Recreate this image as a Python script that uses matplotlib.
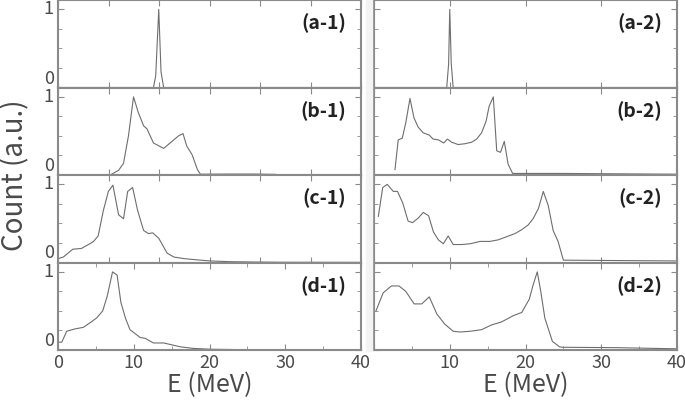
import numpy as np
import matplotlib
matplotlib.use("Agg")
from matplotlib import pyplot as plt
from matplotlib.patches import Rectangle

plt.rcParams['font.family'] = ['Noto Sans CJK SC', 'DejaVu Sans']

# energy (MeV) / normalised count for each panel
e_a1 = [0, 12.6, 12.9, 13.3, 13.6, 13.95, 40]
c_a1 = [0, 0, 0.15, 1.0, 0.2, 0, 0]
e_a2 = [0, 9.6, 9.85, 10.0, 10.2, 10.45, 40]
c_a2 = [0, 0, 0.3, 1.0, 0.3, 0, 0]

e_b1 = [6.5, 6.9, 8.0, 8.65, 9.3, 9.97, 10.6, 11.3, 11.75, 12.6, 13.95, 14.8,
        15.9, 16.5, 17.0, 17.7, 18.4, 18.8, 22, 26, 28.7]
c_b1 = [0, 0, 0.06, 0.15, 0.5, 1.0, 0.8, 0.63, 0.59, 0.41, 0.34, 0.41,
        0.5, 0.53, 0.37, 0.26, 0.07, 0.01, 0.012, 0.012, 0.008]
e_b2 = [2.77, 3.2, 3.73, 4.2, 4.75, 5.28, 5.85, 6.5, 7.3, 7.8, 8.5, 9.2, 9.7,
        10.25, 11.1, 12.0, 12.9, 13.55, 14.2, 14.8, 15.2, 15.75, 16.2, 16.7,
        17.2, 17.7, 18.3, 25, 32, 40]
c_b2 = [0.07, 0.45, 0.47, 0.67, 0.98, 0.73, 0.61, 0.54, 0.51, 0.46, 0.45, 0.41,
        0.46, 0.42, 0.39, 0.40, 0.42, 0.46, 0.54, 0.69, 0.88, 1.0, 0.31, 0.29,
        0.43, 0.14, 0.02, 0.02, 0.015, 0.01]

e_c1 = [0, 0.7, 1.95, 3.1, 4.2, 4.7, 5.3, 6.0, 6.65, 7.25, 8.0, 8.65, 9.2,
        9.85, 10.5, 11.3, 11.95, 12.5, 13.3, 14.4, 15.3, 16.6, 18.8, 20.1,
        22.8, 26, 30, 40]
c_c1 = [0.05, 0.07, 0.17, 0.18, 0.24, 0.27, 0.34, 0.67, 0.91, 0.99, 0.61, 0.56,
        0.91, 0.96, 0.67, 0.41, 0.37, 0.38, 0.31, 0.12, 0.07, 0.05, 0.03, 0.02,
        0.01, 0.006, 0.003, 0.002]
e_c2 = [0.57, 1.15, 1.75, 2.55, 3.1, 3.8, 4.5, 5.1, 5.85, 6.5, 7.2, 7.85, 8.5,
        9.15, 9.8, 10.45, 11.6, 12.7, 14.0, 15.3, 16.4, 17.5, 18.6, 19.5, 20.35,
        21.0, 21.7, 22.35, 23.0, 23.65, 24.3, 25.0, 32, 40]
c_c2 = [0.59, 0.96, 1.0, 0.91, 0.91, 0.76, 0.53, 0.51, 0.57, 0.64, 0.60, 0.39,
        0.29, 0.24, 0.34, 0.23, 0.23, 0.24, 0.27, 0.27, 0.29, 0.33, 0.37, 0.42,
        0.48, 0.56, 0.69, 0.91, 0.73, 0.41, 0.27, 0.03, 0.025, 0.02]

e_d1 = [0, 0.5, 1.15, 2.25, 3.35, 4.25, 5.1, 5.9, 6.5, 7.2, 7.8, 8.3, 8.9, 9.5,
        10.85, 11.5, 12.6, 13.95, 16.2, 17.9, 20.1, 24, 30, 40]
c_d1 = [0.1, 0.1, 0.24, 0.27, 0.29, 0.35, 0.41, 0.5, 0.69, 1.0, 0.96, 0.61,
        0.41, 0.26, 0.16, 0.15, 0.09, 0.09, 0.04, 0.02, 0.01, 0.005, 0.003, 0.002]
e_d2 = [0.26, 1.2, 2.3, 3.3, 4.2, 5.3, 6.3, 7.3, 8.3, 9.35, 10.45, 11.35, 12.7,
        14.2, 15.5, 16.85, 18.4, 19.5, 20.5, 21.0, 21.55, 22.0, 22.55, 23.55,
        24.5, 24.9, 32, 40]
c_d2 = [0.5, 0.73, 0.82, 0.82, 0.75, 0.59, 0.59, 0.68, 0.46, 0.33, 0.24, 0.23,
        0.24, 0.26, 0.32, 0.36, 0.44, 0.48, 0.65, 0.83, 1.0, 0.76, 0.41, 0.11,
        0.04, 0.035, 0.03, 0.015]

left = [(e_a1, c_a1, '(a-1)'), (e_b1, c_b1, '(b-1)'), (e_c1, c_c1, '(c-1)'), (e_d1, c_d1, '(d-1)')]
right = [(e_a2, c_a2, '(a-2)'), (e_b2, c_b2, '(b-2)'), (e_c2, c_c2, '(c-2)'), (e_d2, c_d2, '(d-2)')]

W, H = 685, 403
fig = plt.figure(figsize=(W / 100, H / 100), dpi=100)
fig.patches.append(Rectangle((366 / W, 0.13), 6 / W, 0.87, transform=fig.transFigure,
                             color='#f3f3f3', zorder=0))

spine_c = '#8a8a8a'
text_c = '#4a4a4a'
row_h = 87.5
for col, (panels, x0) in enumerate([(left, 58), (right, 374)]):
    for row, (e, c, tag) in enumerate(panels):
        bottom = (H - 350 + (3 - row) * row_h) / H
        ax = fig.add_axes([x0 / W, bottom, 303 / W, row_h / H])
        ax.plot(e, c, color='#6e6e6e', lw=0.8)
        ax.set_xlim(0, 40)
        ax.set_ylim(0, 1.12)
        for s in ax.spines.values():
            s.set_color(spine_c)
            s.set_linewidth(1.5)
        ax.set_yticks([0, 1])
        ax.set_yticks([0.25, 0.5, 0.75], minor=True)
        if row == 3:
            ax.set_xticks([0, 10, 20, 30, 40])
            ax.set_xticks([5, 15, 25, 35], minor=True)
            if col == 1:
                ax.set_xticklabels(['', '10', '20', '30', '40'])
            ax.set_xlabel('E (MeV)', fontsize=18, color=text_c, labelpad=0)
        elif col == 0:
            ax.set_xticks(np.linspace(0, 40, 7))
            ax.set_xticklabels([])
        else:
            ax.set_xticks([0, 10, 20, 30, 40])
            ax.set_xticklabels([])
        if col == 1:
            ax.set_yticklabels([])
        ax.tick_params(which='both', direction='in', top=True, right=True,
                       color=spine_c, labelsize=13, labelcolor=text_c, pad=3)
        ax.tick_params(which='major', length=4)
        ax.tick_params(which='minor', length=3)
        if col == 0:
            ylabs = ax.get_yticklabels()
            ylabs[0].set_va('bottom')
            ylabs[1].set_va('center')
        ax.text(0.95, 0.73, tag, transform=ax.transAxes, ha='right', va='center',
                fontsize=14, fontweight='bold', color='#222222')

fig.text(15 / W, 1 - 175 / H, 'Count (a.u.)', rotation=90, ha='center', va='center',
         fontsize=20, color=text_c)

fig.savefig('out.png', dpi=100)
